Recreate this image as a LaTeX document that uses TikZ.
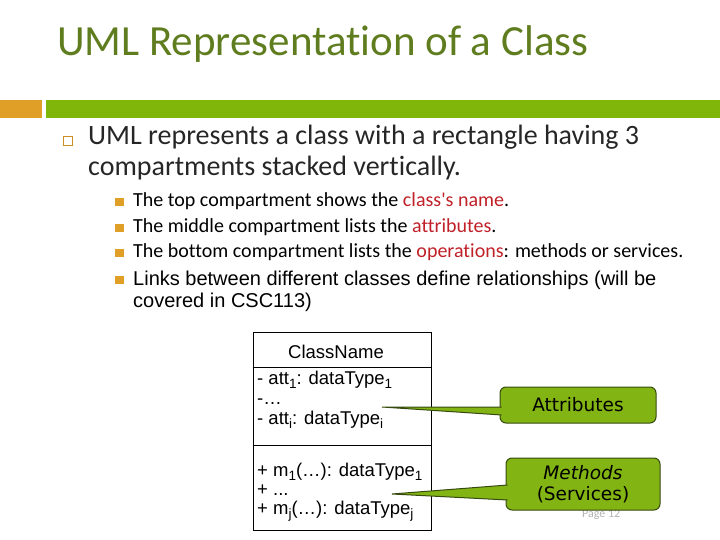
\documentclass[tikz,border=0pt]{standalone}
\usepackage{fontspec}
\setmainfont{Carlito}[Ligatures=NoCommon]
\newfontfamily\arialfont{Liberation Sans}
\newfontfamily\comicfont{DejaVu Sans}
\usetikzlibrary{positioning}
\definecolor{titlegreen}{RGB}{95,125,30}
\definecolor{barorange}{RGB}{224,160,40}
\definecolor{bargreen}{RGB}{128,182,10}
\definecolor{keyred}{RGB}{192,32,40}
\definecolor{textgray}{RGB}{38,38,38}
\definecolor{calloutfill}{RGB}{130,180,20}
\definecolor{calloutline}{RGB}{55,75,15}
\newcommand{\keyword}[1]{\textcolor{keyred}{#1}}
\newcommand{\lowsub}[1]{\raisebox{-4.5pt}{\fontsize{13.5}{14}\selectfont #1}}
\tikzstyle{line} = [inner sep=0pt, anchor=base west]
\tikzstyle{mainbullet} = [rectangle, draw=barorange!90!black, line width=1.5pt,
minimum size=9pt, inner sep=0pt]
\tikzstyle{subbullet} = [rectangle, fill=barorange, minimum size=8.5pt, inner sep=0pt]
\tikzstyle{umltext} = [inner sep=0pt, anchor=base west,
font=\arialfont\fontsize{18.5}{20}\selectfont]
\tikzstyle{callbox} = [rectangle, rounded corners=6pt, 
draw=calloutline, 
fill=calloutfill, 
line width=1pt, 
align=center,
font=\comicfont\fontsize{18.5}{20.5}\selectfont]
\tikzstyle{callpointer} = [draw=calloutline, line width=1pt, line join=miter]

\begin{document}
\begin{tikzpicture}[x=1pt,y=-1pt]
        \useasboundingbox (0,0) rectangle (720,540);
        \node (title) [line, text=titlegreen, font=\fontsize{43}{48}\selectfont] at (57,56) {UML Representation of a Class};
        \fill [barorange] (0,100) rectangle (42,118);
        \fill [bargreen] (46,100) rectangle (720,118);
        \node (b0) [mainbullet] at (68,141) {};
        \node (l0) [line, text=textgray, font=\fontsize{28}{31}\selectfont] at (88,145) {UML represents a class with a rectangle having 3};
        \node (l0b) [line, text=textgray, font=\fontsize{28}{31}\selectfont] at (88,176) {compartments stacked vertically.};
        \node (b1) [subbullet] at (119.5,202) {};
        \node (l1) [line, font=\fontsize{20}{24}\selectfont] at (133,207) {The top compartment shows the \keyword{class\textquotesingle s name}.};
        \node (b2) [subbullet] at (119.5,228) {};
        \node (l2) [line, font=\fontsize{20}{24}\selectfont] at (133,233) {The middle compartment lists the \keyword{attributes}.};
        \node (b3) [subbullet] at (119.5,253) {};
        \node (l3) [line, font=\fontsize{20}{24}\selectfont] at (133,258) {The bottom compartment lists the \keyword{operations}: methods or services.};
        \node (b4) [subbullet] at (119.5,280) {};
        \node (l4) [line, font=\arialfont\fontsize{20}{24}\selectfont] at (133,285) {Links between different classes define relationships (will be};
        \node (l4b) [line, font=\arialfont\fontsize{20}{24}\selectfont] at (133,307) {covered in CSC113)};
        \node (classbox) [rectangle, draw, line width=0.8pt, minimum width=178pt, minimum height=198pt, inner sep=0pt] at (342,431) {};
        \draw [line width=0.8pt] ([yshift=-36pt]classbox.north west) -- ([yshift=-36pt]classbox.north east);
        \draw [line width=0.8pt] ([yshift=-114pt]classbox.north west) -- ([yshift=-114pt]classbox.north east);
        \node (cname) [umltext] at (288,358) {ClassName};
        \node (att1) [umltext] at (257,384) {- att\lowsub{1}: dataType\lowsub{1}};
        \node (att2) [umltext] at (257,404) {-…};
        \node (att3) [umltext] at (257,424) {- att\lowsub{i}: dataType\lowsub{i}};
        \node (meth1) [umltext] at (257,476) {+ m\lowsub{1}(…): dataType\lowsub{1}};
        \node (meth2) [umltext] at (257,495) {+ ...};
        \node (meth3) [umltext] at (257,514) {+ m\lowsub{j}(…): dataType\lowsub{j}};
        \node (page) [line, text=black!30, font=\fontsize{12}{14}\selectfont] at (582,517) {Page 12};
        \node (attr) [callbox, minimum width=156pt, minimum height=36pt] at (578,405) {Attributes};
        \coordinate (attrtip) at (382,407);
        \fill [calloutfill] ([xshift=2pt,yshift=-2pt]attr.west) -- (attrtip) -- ([xshift=2pt,yshift=-10pt]attr.west) -- cycle;
        \draw [callpointer] ([xshift=2pt,yshift=-2pt]attr.west) -- (attrtip) -- ([xshift=2pt,yshift=-10pt]attr.west);
        \node (meth) [callbox, minimum width=154pt, minimum height=52pt] at (583,484) {{\itshape Methods}\\(Services)};
        \coordinate (methtip) at (392,494);
        \fill [calloutfill] ([xshift=2pt,yshift=-1pt]meth.west) -- (methtip) -- ([xshift=2pt,yshift=-16pt]meth.west) -- cycle;
        \draw [callpointer] ([xshift=2pt,yshift=-1pt]meth.west) -- (methtip) -- ([xshift=2pt,yshift=-16pt]meth.west);
    \end{tikzpicture}
\end{document}
